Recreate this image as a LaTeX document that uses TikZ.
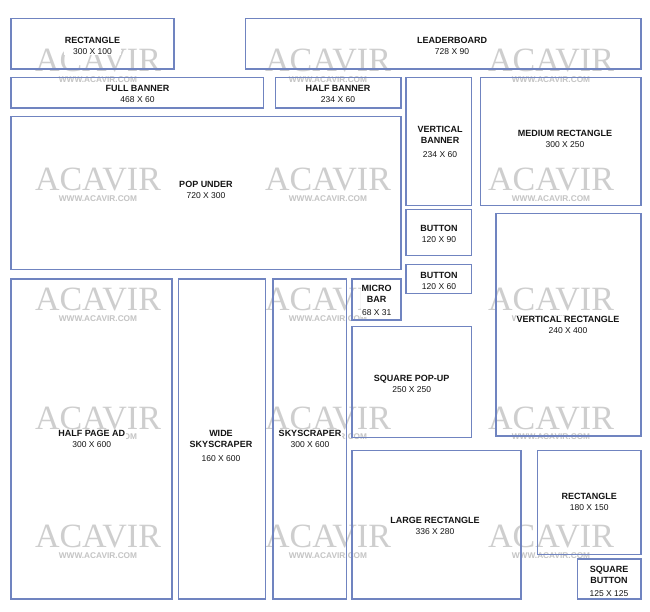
\documentclass[tikz,border=0pt]{standalone}
\usepackage{fontspec}
\setmainfont{Liberation Sans}
\newfontfamily\wmserif{Liberation Serif}
\definecolor{adblue}{RGB}{112,132,192}
\definecolor{wmgray}{RGB}{206,206,206}
\definecolor{wmgraysm}{RGB}{196,196,196}
\definecolor{labelink}{RGB}{20,20,20}
\tikzset{
  adbox/.style={draw=adblue, line width=1.1pt, inner sep=0pt, outer sep=0pt, anchor=north west},
  wmbig/.style={inner sep=0pt, text=wmgray, font=\wmserif\fontsize{34}{34}\selectfont},
  wmsmall/.style={inner sep=0pt, text=wmgraysm, font=\fontsize{8.3}{9}\selectfont\bfseries},
  adlabel/.style={fill=white, inner sep=0.6pt, align=center, text=labelink,
                  font=\fontsize{9}{11}\selectfont\bfseries},
}
\newcommand{\dimtxt}[1]{{\fontsize{8.5}{11}\selectfont\mdseries #1}}
\begin{document}
\begin{tikzpicture}[x=1pt, y=-1pt]
\fill[white] (0,0) rectangle (650,612);
\useasboundingbox (0,0) rectangle (650,612);
% watermarks
\foreach \c/\x in {1/98,2/328,3/551}{
  \foreach \r/\y in {1/61,2/180,3/300,4/418.3,5/536.7}{
    \node[wmbig] (wmA\r\c) at (\x,\y) {ACAVIR};
    \node[wmsmall] (wmB\r\c) at (\x,\y+18.5) {WWW.ACAVIR.COM};
  }
}
% boxes
\node[adbox, minimum width=163pt, minimum height=50.7pt] (rect) at (11,18.3) {};
\node[adbox, minimum width=395.3pt, minimum height=50.7pt] (leader) at (245.7,18.3) {};
\node[adbox, minimum width=252.3pt, minimum height=30.7pt] (full) at (11,77.3) {};
\node[adbox, minimum width=125.7pt, minimum height=30.7pt] (half) at (275.3,77.3) {};
\node[adbox, minimum width=65.7pt, minimum height=128pt] (vbanner) at (406,77.3) {};
\node[adbox, minimum width=160.7pt, minimum height=128pt] (medrect) at (480.3,77.3) {};
\node[adbox, minimum width=390pt, minimum height=152.6pt] (popunder) at (11,116.7) {};
\node[adbox, minimum width=65.7pt, minimum height=46.4pt] (buttonA) at (406,209.3) {};
\node[adbox, minimum width=65.7pt, minimum height=29pt] (buttonB) at (406,264.3) {};
\node[adbox, minimum width=145pt, minimum height=222.3pt] (vrect) at (496,213.7) {};
\node[adbox, minimum width=49pt, minimum height=41pt] (microbar) at (352,279) {};
\node[adbox, minimum width=119.7pt, minimum height=110.6pt] (sqpopup) at (352,326.7) {};
\node[adbox, minimum width=161pt, minimum height=320pt] (halfpage) at (11,279) {};
\node[adbox, minimum width=87.4pt, minimum height=320pt] (widesky) at (178.3,279) {};
\node[adbox, minimum width=73.7pt, minimum height=320pt] (sky) at (273,279) {};
\node[adbox, minimum width=169pt, minimum height=148.3pt] (large) at (352,450.7) {};
\node[adbox, minimum width=103.7pt, minimum height=103.6pt] (rectB) at (537.3,450.7) {};
\node[adbox, minimum width=63.7pt, minimum height=40pt] (sqbutton) at (577.3,559) {};
% labels
\node[adlabel] (lrect) at (92.5,45.5) {RECTANGLE\\\dimtxt{300 X 100}};
\node[adlabel] (lleader) at (452,45.5) {LEADERBOARD\\\dimtxt{728 X 90}};
\node[adlabel] (lfull) at (137.5,94) {FULL BANNER\\\dimtxt{468 X 60}};
\node[adlabel] (lhalf) at (338,94) {HALF BANNER\\\dimtxt{234 X 60}};
\node[adlabel] (lpop) at (206,189.5) {POP UNDER\\\dimtxt{720 X 300}};
\node[adlabel] (lvban) at (440,141.7) {VERTICAL\\BANNER\\[2.5pt]\dimtxt{234 X 60}};
\node[adlabel] (lmed) at (565,139.2) {MEDIUM RECTANGLE\\\dimtxt{300 X 250}};
\node[adlabel] (lbutA) at (439,233.8) {BUTTON\\\dimtxt{120 X 90}};
\node[adlabel] (lbutB) at (439,280.7) {BUTTON\\\dimtxt{120 X 60}};
\node[adlabel] (lmicro) at (376.7,300.5) {MICRO\\BAR\\[2.5pt]\dimtxt{68 X 31}};
\node[adlabel] (lvrect) at (568,324.8) {VERTICAL RECTANGLE\\\dimtxt{240 X 400}};
\node[adlabel] (lsqpop) at (411.7,384) {SQUARE POP-UP\\\dimtxt{250 X 250}};
\node[adlabel] (lhalfpage) at (91.7,439) {HALF PAGE AD\\\dimtxt{300 X 600}};
\node[adlabel] (lwide) at (221,445.7) {WIDE\\SKYSCRAPER\\[2.5pt]\dimtxt{160 X 600}};
\node[adlabel] (lsky) at (310,439) {SKYSCRAPER\\\dimtxt{300 X 600}};
\node[adlabel] (llarge) at (435,525.7) {LARGE RECTANGLE\\\dimtxt{336 X 280}};
\node[adlabel] (lrectB) at (589.3,502.2) {RECTANGLE\\\dimtxt{180 X 150}};
\node[adlabel] (lsqbut) at (609,581.2) {SQUARE\\BUTTON\\[2.5pt]\dimtxt{125 X 125}};
\end{tikzpicture}
\end{document}
